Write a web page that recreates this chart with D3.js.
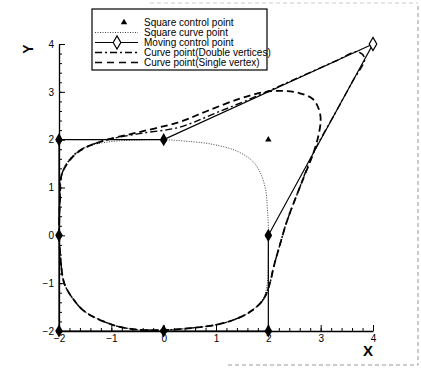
<!DOCTYPE html>
<html>
<head>
<meta charset="utf-8">
<script src="https://cdn.jsdelivr.net/npm/d3@7"></script>
<style>
	body { margin: 0; background: #fff; }
	svg { display: block; font-family: "Liberation Sans", Arial, sans-serif; }
	.tick text { font-size: 10px; fill: #000; }
	.domain { stroke: #000; stroke-width: 1.3; }
	.tick line { stroke: #000; stroke-width: 1; }
</style>
</head>
<body>
<div id="chart"></div>
<script>

// square control points (triangles)
var squareCtrl = [[-2,2],[0,2],[2,2],[2,0],[2,-2],[0,-2],[-2,-2],[-2,0]]

// moving control polygon (diamonds), closed
var movingCtrl = [[-2,2],[0,2],[4,4],[2,0],[2,-2],[0,-2],[-2,-2],[-2,0],[-2,2]]
var movedPoint = [[4,4]]

// square curve point (dotted)
var squareCurve = [[-2,0],[-1.98,0.8],[-1.94,1.3],[-1.8,1.6],[-1.5,1.84],[-1.0,1.96],[-0.5,1.99],[0,2.0],
	[0.4,1.97],[0.9,1.91],[1.4,1.76],[1.7,1.55],[1.85,1.3],[1.95,0.94],[1.98,0.58],[2.0,0.2],[2.0,-0.5],
	[1.98,-1.0],[1.9,-1.32],[1.65,-1.6],[1.33,-1.77],[1.0,-1.87],[0.6,-1.93],[0,-1.98],[-0.6,-1.96],
	[-1.0,-1.86],[-1.5,-1.6],[-1.75,-1.3],[-1.9,-1.0],[-1.97,-0.5],[-2,0]]

// curve point (double vertices), dash-dot
var curveDouble = [[-2,0],[-1.98,0.8],[-1.94,1.3],[-1.66,1.73],[-1.2,1.96],[-0.5,2.12],[0.3,2.26],[1.0,2.56],
	[1.8,2.92],[2.6,3.31],[3.3,3.65],[3.7,3.84],[3.84,3.7],[3.6,3.2],[3.25,2.5],[2.86,1.72],[2.6,1.0],
	[2.36,0.31],[2.22,-0.2],[2.1,-0.67],[2.03,-1.0],[1.9,-1.35],[1.65,-1.6],[1.33,-1.77],[1.0,-1.87],
	[0.6,-1.93],[0,-1.98],[-0.6,-1.96],[-1.0,-1.86],[-1.5,-1.6],[-1.75,-1.3],[-1.9,-1.0],[-1.97,-0.5],[-2,0]]

// curve point (single vertex), dashed
var curveSingle = [[-2,0],[-1.98,0.8],[-1.94,1.3],[-1.66,1.72],[-1.2,1.96],[-0.5,2.15],[0.3,2.37],[0.83,2.6],
	[1.46,2.86],[1.9,2.99],[2.3,3.02],[2.6,2.97],[2.85,2.85],[2.97,2.62],[3.0,2.4],[2.95,2.05],[2.86,1.72],
	[2.6,1.0],[2.36,0.31],[2.22,-0.2],[2.1,-0.67],[2.03,-1.0],[1.9,-1.35],[1.65,-1.6],[1.33,-1.77],[1.0,-1.87],
	[0.6,-1.93],[0,-1.98],[-0.6,-1.96],[-1.0,-1.86],[-1.5,-1.6],[-1.75,-1.3],[-1.9,-1.0],[-1.97,-0.5],[-2,0]]

var xTicks = [-2,-1,0,1,2,3,4]
var yTicks = [-2,-1,0,1,2,3,4]
var minorTicks = d3.range(-2, 4.001, 0.2)

var legendLabels = ["Square control point","Square curve point","Moving control point",
	"Curve point(Double vertices)","Curve point(Single vertex)"]

var width = 421, height = 368

var svg = d3.select("#chart").append("svg")
	.attr("width", width)
	.attr("height", height)

var x = d3.scaleLinear().domain([-2,4]).range([59,373])
var y = d3.scaleLinear().domain([-2,4]).range([331,44])

// scan frame
var frame = svg.append("g").attr("stroke", "#999").attr("stroke-width", 1).attr("stroke-dasharray", "4,3")
frame.append("line").attr("x1", 418).attr("x2", 418).attr("y1", 6).attr("y2", 365)
frame.append("line").attr("x1", 150).attr("x2", 418).attr("y1", 3).attr("y2", 3).attr("stroke", "#ccc")
frame.append("line").attr("x1", 228).attr("x2", 418).attr("y1", 365).attr("y2", 365)

// axes
svg.append("g").attr("transform", "translate(0,331)")
	.call(d3.axisBottom(x).tickValues(minorTicks).tickFormat("").tickSizeInner(-3).tickSizeOuter(0))
	.select(".domain").remove()
svg.append("g").attr("transform", "translate(59,0)")
	.call(d3.axisLeft(y).tickValues(minorTicks).tickFormat("").tickSizeInner(-3).tickSizeOuter(0))
	.select(".domain").remove()

svg.append("g").attr("transform", "translate(0,331)")
	.call(d3.axisBottom(x).tickValues(xTicks).tickFormat(d3.format("d")).tickSizeInner(-6).tickSizeOuter(0).tickPadding(4))
svg.append("g").attr("transform", "translate(59,0)")
	.call(d3.axisLeft(y).tickValues(yTicks).tickFormat(d3.format("d")).tickSizeInner(-6).tickSizeOuter(0).tickPadding(5))

svg.append("text").attr("x", 368).attr("y", 356).attr("text-anchor", "middle")
	.attr("font-size", 15).attr("font-weight", "bold").text("X")
svg.append("text").attr("transform", "translate(33,49) rotate(-90)").attr("text-anchor", "middle")
	.attr("font-size", 14).attr("font-weight", "bold").text("Y")

var line = d3.line().x(function(d) { return x(d[0]) }).y(function(d) { return y(d[1]) })
var smooth = d3.line().curve(d3.curveCatmullRom.alpha(0.5)).x(function(d) { return x(d[0]) }).y(function(d) { return y(d[1]) })

var plot = svg.append("g").attr("fill", "none").attr("stroke", "#000")

plot.append("path").attr("d", smooth(squareCurve))
	.attr("stroke", "#444").attr("stroke-width", 1).attr("stroke-dasharray", "1,1.5")
plot.append("path").attr("d", smooth(curveDouble))
	.attr("stroke-width", 1.4).attr("stroke-dasharray", "7,3,2,3")
plot.append("path").attr("d", smooth(curveSingle))
	.attr("stroke-width", 1.8).attr("stroke-dasharray", "7,4")
plot.append("path").attr("d", line(movingCtrl)).attr("stroke-width", 1.2)

var tri = d3.symbol().type(d3.symbolTriangle).size(18)
var dia = d3.symbol().type(d3.symbolDiamond).size(50)

svg.selectAll(".sq")
	.data(squareCtrl)
	.enter().append("path")
	.attr("class", "sq")
	.attr("d", tri)
	.attr("transform", function(d) { return "translate(" + x(d[0]) + "," + y(d[1]) + ")" })
	.attr("fill", "#000")

svg.selectAll(".mv")
	.data(movingCtrl.slice(0, -1).filter(function(d) { return !(d[0] == movedPoint[0][0] && d[1] == movedPoint[0][1]) }))
	.enter().append("path")
	.attr("class", "mv")
	.attr("d", dia)
	.attr("transform", function(d) { return "translate(" + x(d[0]) + "," + y(d[1]) + ")" })
	.attr("fill", "#000")

svg.selectAll(".moved")
	.data(movedPoint)
	.enter().append("path")
	.attr("class", "moved")
	.attr("d", dia)
	.attr("transform", function(d) { return "translate(" + x(d[0]) + "," + y(d[1]) + ")" })
	.attr("fill", "#fff").attr("stroke", "#000").attr("stroke-width", 1.2)

// legend
var legend = svg.append("g")
legend.append("rect").attr("x", 92).attr("y", 9).attr("width", 175).attr("height", 61)
	.attr("fill", "#fff").attr("stroke", "#000").attr("stroke-width", 1.2)

var rows = legend.selectAll(".row")
	.data(legendLabels)
	.enter().append("g")
	.attr("class", "row")
	.attr("transform", function(d, i) { return "translate(0," + (22.5 + i * 10) + ")" })

rows.append("text").attr("x", 144).attr("y", 3.5).attr("font-size", 10).text(function(d) { return d })

rows.each(function(d, i) {
	var g = d3.select(this)
	if (i == 0) {
		g.append("path").attr("d", tri).attr("transform", "translate(124,0)").attr("fill", "#000")
	} else {
		var l = g.append("line").attr("x1", 95).attr("x2", 138).attr("y1", 0).attr("y2", 0).attr("stroke", "#000")
		if (i == 1) l.attr("stroke", "#444").attr("stroke-dasharray", "1,1.5")
		if (i == 2) {
			l.attr("stroke-width", 1)
			g.append("path").attr("d", dia).attr("transform", "translate(117,0)")
				.attr("fill", "#fff").attr("stroke", "#000").attr("stroke-width", 1.2)
		}
		if (i == 3) l.attr("stroke-width", 1.3).attr("stroke-dasharray", "7,3,2,3")
		if (i == 4) l.attr("stroke-width", 1.5).attr("stroke-dasharray", "7,5")
	}
})

</script>
</body>
</html>
